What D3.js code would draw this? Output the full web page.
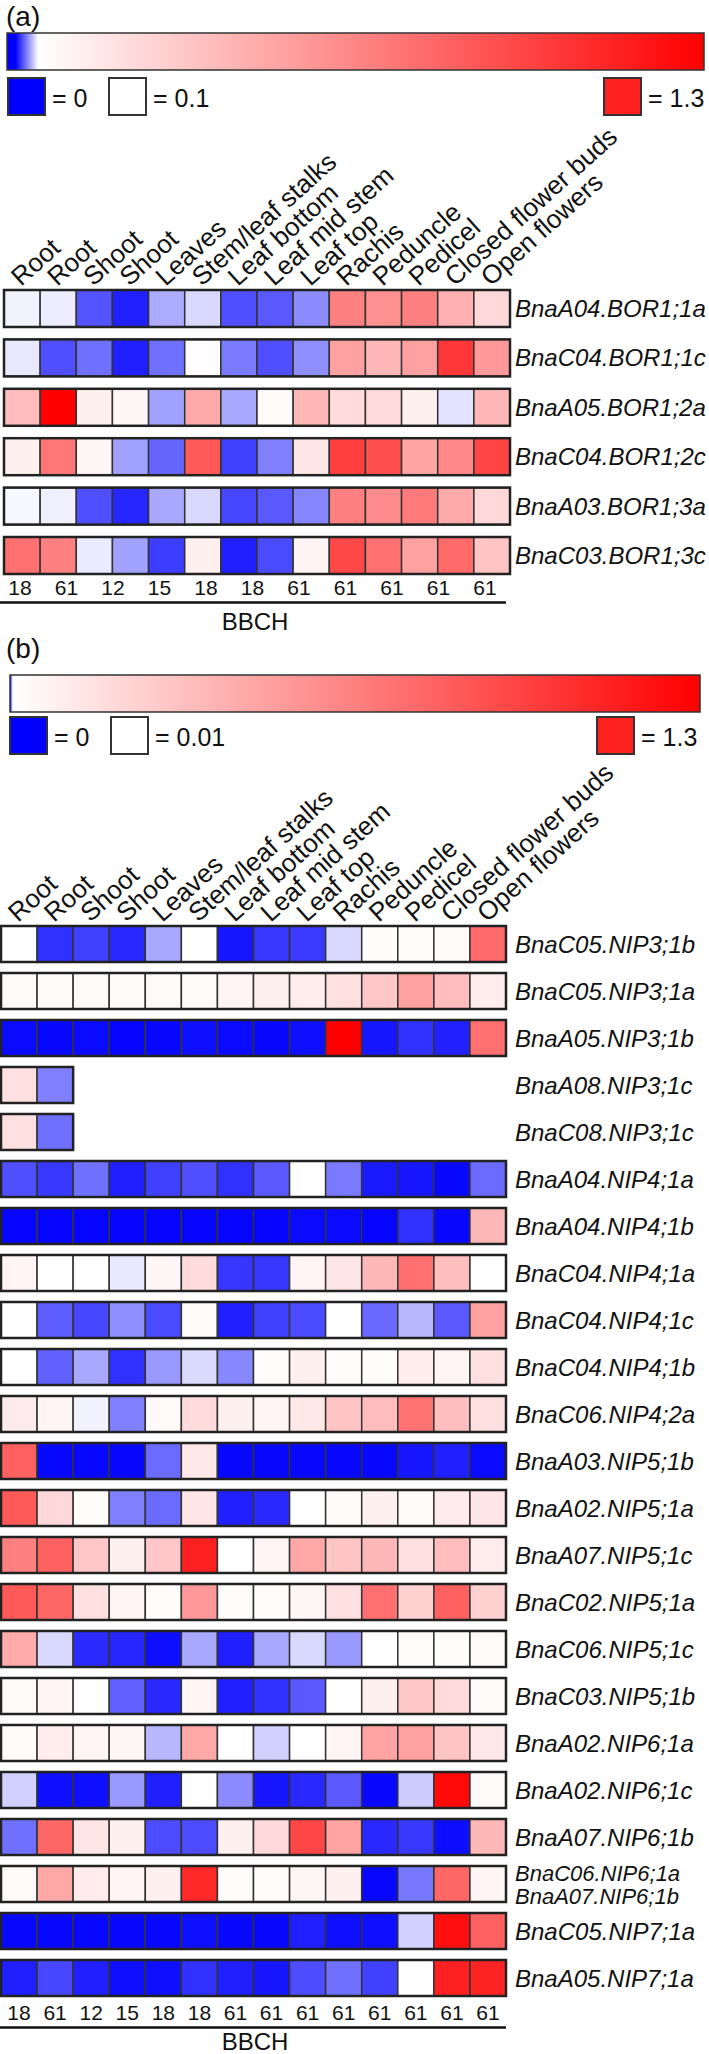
<!DOCTYPE html>
<html>
<head>
<meta charset="utf-8">
<script src="https://cdn.jsdelivr.net/npm/d3@7"></script>
<style>
body{margin:0;background:#fff;}
text{font-family:"Liberation Sans", Arial, Helvetica, sans-serif; fill:#111;}
</style>
</head>
<body>
<div id="chart"></div>
<script>
// tissues (columns), same for both panels
var tissues = ["Root","Root","Shoot","Shoot","Leaves","Stem/leaf stalks","Leaf bottom","Leaf mid stem","Leaf top","Rachis","Peduncle","Pedicel","Closed flower buds","Open flowers"];
var bbchA = ["18","61","12","15","18","18","61","61","61","61","61"];
var bbchB = ["18","61","12","15","18","18","61","61","61","61","61","61","61","61"];

// legend values: blue, white, red
var legendA = [0, 0.1, 1.3];
var legendB = [0, 0.01, 1.3];

// (a) BOR1 genes
var genesA = ["BnaA04.BOR1;1a","BnaC04.BOR1;1c","BnaA05.BOR1;2a","BnaC04.BOR1;2c","BnaA03.BOR1;3a","BnaC03.BOR1;3c"];
var valuesA = [
  [0.095,0.093,0.033,0.013,0.067,0.085,0.031,0.035,0.055,0.70,0.62,0.70,0.47,0.28],
  [0.091,0.031,0.044,0.012,0.044,0.11,0.048,0.031,0.056,0.54,0.44,0.54,1.04,0.58],
  [0.41,1.30,0.17,0.14,0.063,0.50,0.066,0.12,0.44,0.27,0.27,0.17,0.089,0.44],
  [0.17,0.74,0.14,0.063,0.040,0.88,0.025,0.050,0.22,1.01,0.93,0.53,0.66,0.98],
  [0.097,0.094,0.031,0.015,0.066,0.085,0.028,0.035,0.052,0.70,0.64,0.72,0.50,0.28],
  [0.77,0.70,0.092,0.063,0.024,0.17,0.012,0.029,0.15,0.96,0.77,0.54,0.80,0.38]
];

// (b) NIP genes
var genesB = ["BnaC05.NIP3;1b","BnaC05.NIP3;1a","BnaA05.NIP3;1b","BnaA08.NIP3;1c","BnaC08.NIP3;1c",
  "BnaA04.NIP4;1a","BnaA04.NIP4;1b","BnaC04.NIP4;1a","BnaC04.NIP4;1c","BnaC04.NIP4;1b","BnaC06.NIP4;2a",
  "BnaA03.NIP5;1b","BnaA02.NIP5;1a","BnaA07.NIP5;1c","BnaC02.NIP5;1a","BnaC06.NIP5;1c","BnaC03.NIP5;1b",
  "BnaA02.NIP6;1a","BnaA02.NIP6;1c","BnaA07.NIP6;1b","BnaC06.NIP6;1a\nBnaA07.NIP6;1b","BnaC05.NIP7;1a","BnaA05.NIP7;1a"];
var valuesB = [
  [0.01,0.0019,0.0025,0.0016,0.0066,0.01,0.0009,0.0022,0.0023,0.0085,0.023,0.023,0.036,0.758],
  [0.036,0.036,0.036,0.036,0.036,0.036,0.062,0.087,0.10,0.165,0.294,0.487,0.345,0.10],
  [0.0004,0.0003,0.0004,0.0002,0.0003,0.0006,0.0004,0.0003,0.0006,1.30,0.0009,0.0019,0.0013,0.732],
  [0.165,0.005],
  [0.165,0.0044],
  [0.0031,0.0022,0.0044,0.0012,0.0025,0.0031,0.0019,0.0035,0.01,0.0048,0.001,0.0009,0.0003,0.0042],
  [0.0002,0.0002,0.0002,0.0002,0.0002,0.0002,0.0002,0.0002,0.0004,0.0004,0.0002,0.0019,0.0003,0.371],
  [0.062,0.01,0.01,0.0091,0.049,0.19,0.0021,0.0021,0.062,0.139,0.371,0.732,0.333,0.01],
  [0.01,0.0036,0.0028,0.0056,0.0029,0.036,0.0012,0.0025,0.0029,0.01,0.0041,0.0072,0.0035,0.487],
  [0.01,0.0038,0.0066,0.0019,0.006,0.0086,0.0053,0.023,0.087,0.023,0.023,0.10,0.062,0.165],
  [0.113,0.062,0.0095,0.005,0.036,0.19,0.087,0.062,0.126,0.307,0.345,0.72,0.333,0.165],
  [0.81,0.0003,0.0003,0.0003,0.0042,0.126,0.0003,0.0003,0.0003,0.0003,0.0003,0.0009,0.0012,0.0004],
  [0.849,0.204,0.023,0.005,0.0042,0.139,0.0012,0.0016,0.01,0.036,0.087,0.036,0.113,0.139],
  [0.655,0.81,0.294,0.087,0.294,1.132,0.01,0.062,0.449,0.307,0.371,0.165,0.345,0.10],
  [0.849,0.784,0.165,0.062,0.023,0.526,0.023,0.023,0.049,0.165,0.732,0.242,0.81,0.242],
  [0.436,0.0085,0.0017,0.0015,0.0006,0.0066,0.0012,0.0066,0.0085,0.006,0.01,0.023,0.023,0.036],
  [0.036,0.062,0.01,0.0038,0.0016,0.062,0.0012,0.0019,0.0035,0.01,0.087,0.294,0.19,0.036],
  [0.036,0.10,0.062,0.049,0.0072,0.449,0.01,0.0082,0.01,0.062,0.474,0.487,0.307,0.126],
  [0.0082,0.0006,0.0006,0.006,0.0012,0.01,0.0055,0.0009,0.0016,0.0035,0.0003,0.008,1.261,0.036],
  [0.0044,0.784,0.139,0.087,0.003,0.003,0.087,0.204,0.939,0.474,0.0016,0.0022,0.0005,0.371],
  [0.036,0.449,0.113,0.062,0.087,1.094,0.023,0.023,0.049,0.087,0.0003,0.0047,0.784,0.062],
  [0.0003,0.0003,0.0003,0.0003,0.0003,0.0006,0.0003,0.0003,0.0012,0.0006,0.0006,0.0082,1.223,0.81],
  [0.0012,0.0028,0.0012,0.0006,0.0006,0.0019,0.0012,0.0009,0.003,0.0044,0.0025,0.01,1.132,1.12]
];

var width = 709, height = 2054;
var svg = d3.select("#chart").append("svg")
  .attr("width", width)
  .attr("height", height);
var defs = svg.append("defs");

function drawPanel(p){
  var g = svg.append("g");
  var color = d3.scaleLinear()
    .domain(p.legend)
    .range(["#0000ff","#ffffff","#ff0000"])
    .clamp(true);

  // panel letter
  g.append("text").attr("x", 6).attr("y", p.letterY)
    .attr("font-size", "28px").text(p.letter);

  // colour bar
  var grad = defs.append("linearGradient").attr("id", "grad" + p.id);
  grad.selectAll("stop").data(p.stops).enter().append("stop")
    .attr("offset", function(d){ return d[0]; })
    .attr("stop-color", function(d){ return d[1]; });
  g.append("rect")
    .attr("x", p.bar[0]).attr("y", p.barY)
    .attr("width", p.bar[1] - p.bar[0]).attr("height", 37)
    .attr("fill", "url(#grad" + p.id + ")")
    .attr("stroke", "#333").attr("stroke-width", 1.5);

  // legend boxes
  var lg = g.selectAll(".leg").data(p.legend).enter().append("g")
    .attr("transform", function(d,i){ return "translate(" + p.legX[i] + "," + p.legY + ")"; });
  lg.append("rect").attr("width", 37).attr("height", 37)
    .attr("fill", function(d,i){ return i == 2 ? "#ff2020" : color(d); })
    .attr("stroke", "#333").attr("stroke-width", 2);
  lg.append("text").attr("x", 44).attr("y", 29)
    .attr("font-size", "25px")
    .text(function(d){ return "= " + d; });

  // heatmap
  var x = d3.scaleBand().domain(d3.range(tissues.length)).range(p.gridX);
  var y = d3.scaleBand().domain(d3.range(p.genes.length))
    .range([p.gridTop, p.gridTop + p.genes.length * p.pitch - (p.pitch - p.cellH)])
    .paddingInner(1 - p.cellH / p.pitch).paddingOuter(0);

  // tilted tissue names
  g.selectAll(".col").data(tissues).enter().append("text")
    .attr("font-size", "26px")
    .attr("transform", function(d,i){ return "translate(" + (x(i) + 17) + "," + (p.gridTop - 3) + ") rotate(-42)"; })
    .text(function(d){ return d; });

  var rows = g.selectAll(".row").data(p.values).enter().append("g")
    .attr("transform", function(d,i){ return "translate(0," + y(i) + ")"; });
  rows.selectAll("rect").data(function(d){ return d; }).enter().append("rect")
    .attr("x", function(d,i){ return x(i); })
    .attr("y", 0)
    .attr("width", x.bandwidth()).attr("height", y.bandwidth())
    .attr("fill", function(d){ return color(d); })
    .attr("stroke", "#333").attr("stroke-width", 1.5);
  rows.append("rect")
    .attr("x", x(0))
    .attr("width", function(d){ return x.bandwidth() * d.length; })
    .attr("height", y.bandwidth())
    .attr("fill", "none").attr("stroke", "#222").attr("stroke-width", 2.5);

  // gene names (one has two lines)
  var gl = g.selectAll(".gene").data(p.genes).enter().append("text")
    .attr("font-style", "italic")
    .attr("font-size", function(d){ return d.indexOf("\n") > -1 ? "22px" : "24px"; })
    .attr("x", 515)
    .attr("y", function(d,i){ return y(i) + y.bandwidth() / 2 + 8.5; });
  gl.each(function(d){
    var parts = d.split("\n"), t = d3.select(this);
    parts.forEach(function(s,k){
      t.append("tspan").attr("x", 515)
        .attr("dy", k == 0 ? (parts.length > 1 ? -11.5 : 0) : 23)
        .text(s);
    });
  });

  // BBCH stages
  var bx = p.bbchScale ? p.bbchScale : function(i){ return x(i) + x.bandwidth() / 2; };
  g.selectAll(".bbch").data(p.bbch).enter().append("text")
    .attr("font-size", "21px").attr("text-anchor", "middle")
    .attr("x", function(d,i){ return bx(i); })
    .attr("y", p.bbchY)
    .text(function(d){ return d; });
  g.append("line").attr("x1", 0).attr("x2", 506)
    .attr("y1", p.bbchY + 7.5).attr("y2", p.bbchY + 7.5)
    .attr("stroke", "#111").attr("stroke-width", 2.5);
  g.append("text").attr("x", 255).attr("y", p.bbchLabelY)
    .attr("font-size", "24px").attr("text-anchor", "middle").text("BBCH");
}

drawPanel({
  id: "a", letter: "(a)", letterY: 26,
  legend: legendA, bar: [7, 704], barY: 33,
  stops: [[0,"#0000ff"],[0.012,"#0000ff"],[0.045,"#ffffff"],[1,"#ff0000"]],
  legX: [8, 109, 604], legY: 78,
  genes: genesA, values: valuesA,
  gridX: [4, 510], gridTop: 290, pitch: 49.4, cellH: 37,
  bbch: bbchA, bbchY: 595, bbchLabelY: 630,
  bbchScale: d3.scalePoint().domain(d3.range(bbchA.length)).range([20, 485])
});

drawPanel({
  id: "b", letter: "(b)", letterY: 658,
  legend: legendB, bar: [10, 700], barY: 675,
  stops: [[0,"#0000ff"],[0.004,"#ffffff"],[1,"#ff0000"]],
  legX: [10, 111, 597], legY: 717,
  genes: genesB, values: valuesB,
  gridX: [1, 506], gridTop: 926, pitch: 47, cellH: 36,
  bbch: bbchB, bbchY: 2020, bbchLabelY: 2050
});
</script>
</body>
</html>
